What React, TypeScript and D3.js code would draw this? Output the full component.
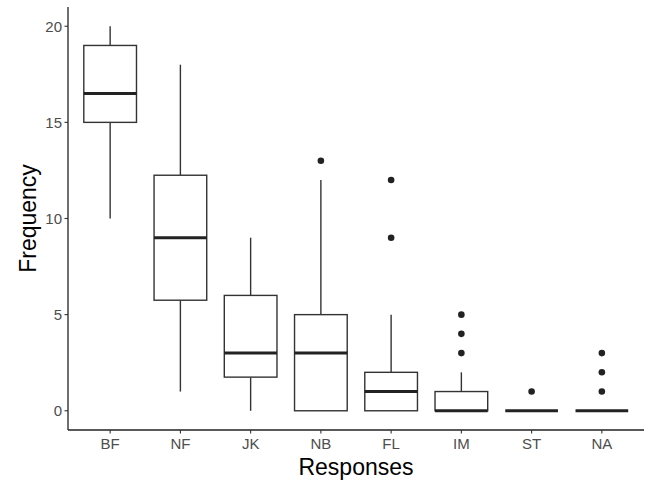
import React from "react";
import * as d3 from "d3";

const categories = ["BF", "NF", "JK", "NB", "FL", "IM", "ST", "NA"];
const whiskerLow = [10, 1, 0, 0, 0, 0, 0, 0];
const q1 = [15, 5.75, 1.75, 0, 0, 0, 0, 0];
const medians = [16.5, 9, 3, 3, 1, 0, 0, 0];
const q3 = [19, 12.25, 6, 5, 2, 1, 0, 0];
const whiskerHigh = [20, 18, 9, 12, 5, 2, 0, 0];
const outliers: number[][] = [[], [], [], [13], [9, 12], [3, 4, 5], [1], [1, 2, 3]];
const yTicks = [0, 5, 10, 15, 20];

const W = 649;
const H = 483;
const left = 68;
const right = 644;
const top = 7;
const bottom = 430;

export default function App() {
  const y = d3.scaleLinear().domain([-1, 21]).range([bottom, top]);
  const x = d3
    .scalePoint<string>()
    .domain(categories)
    .range([left, right])
    .padding(0.6);
  const step = x.step();
  const cx = (i: number) => x(categories[i]) as number;
  const bw = step * 0.75;
  const font = "'Liberation Sans', Arial, Helvetica, sans-serif";
  const stroke = "#333333";

  return (
    <svg width={W} height={H} style={{ position: "absolute", left: 0, top: 0, background: "#fff" }}>
      <rect x={0} y={0} width={W} height={H} fill="#fff" />
      {categories.map((c, i) => {
        const c0 = cx(i);
        return (
          <g key={c}>
            <line x1={c0} x2={c0} y1={y(q3[i])} y2={y(whiskerHigh[i])} stroke={stroke} strokeWidth={1.4} />
            <line x1={c0} x2={c0} y1={y(q1[i])} y2={y(whiskerLow[i])} stroke={stroke} strokeWidth={1.4} />
            <rect
              x={c0 - bw / 2}
              y={y(q3[i])}
              width={bw}
              height={Math.max(0, y(q1[i]) - y(q3[i]))}
              fill="#fff"
              stroke={stroke}
              strokeWidth={1.4}
            />
            <line x1={c0 - bw / 2} x2={c0 + bw / 2} y1={y(medians[i])} y2={y(medians[i])} stroke="#222" strokeWidth={3} />
            {outliers[i].map((v, j) => (
              <circle key={j} cx={c0} cy={y(v)} r={3.3} fill="#222" />
            ))}
          </g>
        );
      })}
      <line x1={left} x2={left} y1={top} y2={bottom} stroke="#222" strokeWidth={1.3} />
      <line x1={left} x2={right} y1={bottom} y2={bottom} stroke="#222" strokeWidth={1.3} />
      {yTicks.map((t) => (
        <g key={t}>
          <line x1={left - 3.5} x2={left} y1={y(t)} y2={y(t)} stroke="#333" strokeWidth={1.1} />
          <text x={left - 6} y={y(t)} dy="0.36em" textAnchor="end" fontFamily={font} fontSize={15} fill="#4d4d4d">
            {t}
          </text>
        </g>
      ))}
      {categories.map((c, i) => (
        <g key={c}>
          <line x1={cx(i)} x2={cx(i)} y1={bottom} y2={bottom + 3.5} stroke="#333" strokeWidth={1.1} />
          <text x={cx(i)} y={bottom + 19} textAnchor="middle" fontFamily={font} fontSize={15} fill="#4d4d4d">
            {c}
          </text>
        </g>
      ))}
      <text x={(left + right) / 2} y={475} textAnchor="middle" fontFamily={font} fontSize={23} fill="#000">
        Responses
      </text>
      <text
        transform={`translate(36,${(top + bottom) / 2}) rotate(-90)`}
        textAnchor="middle"
        fontFamily={font}
        fontSize={23}
        fill="#000"
      >
        Frequency
      </text>
    </svg>
  );
}
